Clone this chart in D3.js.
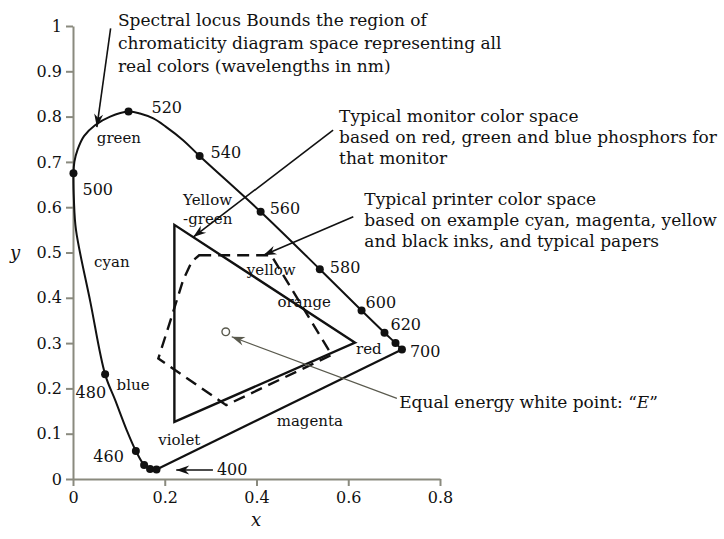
<!DOCTYPE html>
<html>
<head>
<meta charset="utf-8">
<script src="https://cdn.jsdelivr.net/npm/d3@7"></script>
<style>
  html, body { margin: 0; padding: 0; background: #fff; }
  svg { display: block; }
  text { font-family: "DejaVu Serif", "Liberation Serif", serif; fill: #111; }
</style>
</head>
<body>
<svg id="chart" width="724" height="539"></svg>
<script>
// ---- Axis ticks ----
const xTicks = [0, 0.2, 0.4, 0.6, 0.8];
const yTicks = [0, 0.1, 0.2, 0.3, 0.4, 0.5, 0.6, 0.7, 0.8, 0.9, 1];

// ---- Spectral locus trace (xy chromaticity), running 700 nm -> 400 nm ----
const locusX = [0.717, 0.703, 0.679, 0.629, 0.538, 0.409, 0.276, 0.240, 0.202, 0.175, 0.146, 0.121,
                0.081, 0.048, 0.024, 0.010, 0.003, 0.001, 0.002, 0.0065, 0.038, 0.070,
                0.092, 0.117, 0.137, 0.155, 0.168, 0.182];
const locusY = [0.286, 0.300, 0.323, 0.372, 0.463, 0.590, 0.713, 0.748, 0.778, 0.796, 0.807, 0.811,
                0.800, 0.781, 0.757, 0.727, 0.700, 0.675, 0.616, 0.550, 0.390, 0.231,
                0.174, 0.108, 0.062, 0.031, 0.022, 0.021];

// ---- Marked wavelengths on the locus ----
const markNm = [700, 640, 620, 600, 580, 560, 540, 520, 500, 480, 460, 420, 410, 400];
const markX  = [0.717, 0.703, 0.679, 0.629, 0.538, 0.409, 0.276, 0.121, 0.001, 0.070, 0.137, 0.155, 0.168, 0.182];
const markY  = [0.286, 0.300, 0.323, 0.372, 0.463, 0.590, 0.713, 0.811, 0.675, 0.231, 0.062, 0.031, 0.022, 0.021];
const labelledNm = [700, 620, 600, 580, 560, 540, 520, 500, 480, 460];

// ---- Typical monitor gamut (R, G, B phosphor chromaticities) ----
const monitorX = [0.615, 0.221, 0.221];
const monitorY = [0.301, 0.561, 0.126];

// ---- Typical printer gamut outline ----
const printerX = [0.275, 0.432, 0.564, 0.334, 0.186, 0.215, 0.240, 0.259];
const printerY = [0.494, 0.494, 0.274, 0.163, 0.266, 0.358, 0.439, 0.480];

// ---- Equal energy white point ----
const whiteX = 0.333, whiteY = 0.325;

// ---- Region names ----
const regionNames = ["green", "cyan", "blue", "violet", "magenta", "red", "orange", "yellow", "Yellow", "-green"];
const regionX = [0.052, 0.046, 0.095, 0.186, 0.444, 0.617, 0.446, 0.379, 0.240, 0.240];
const regionY = [0.741, 0.469, 0.196, 0.075, 0.117, 0.277, 0.380, 0.450, 0.605, 0.562];

// ---- Callout notes ----
const noteSpectral = ["Spectral locus Bounds the region of",
                      "chromaticity diagram space representing all",
                      "real colors (wavelengths in nm)"];
const noteMonitor  = ["Typical monitor color space",
                      "based on red, green and blue phosphors for",
                      "that monitor"];
const notePrinter  = ["Typical printer color space",
                      "based on example cyan, magenta, yellow",
                      "and black inks, and typical papers"];

// ---- Layout ----
const svg = d3.select("#chart");
const x = d3.scaleLinear().domain([0, 0.8]).range([73, 440]);
const y = d3.scaleLinear().domain([0, 1]).range([479, 26]);
const ink = "#111";
const axisGrey = "#8a8a7e";

// Axes
const gx = svg.append("g").attr("transform", `translate(0,${y(0)})`)
  .call(d3.axisBottom(x).tickValues(xTicks).tickSize(7).tickSizeOuter(0).tickPadding(3)
        .tickFormat(d3.format("~g")));
const gy = svg.append("g").attr("transform", `translate(${x(0)},0)`)
  .call(d3.axisLeft(y).tickValues(yTicks).tickSize(7).tickSizeOuter(0).tickPadding(3)
        .tickFormat(d3.format("~g")));
[gx, gy].forEach(g => {
  g.select(".domain").attr("stroke", axisGrey).attr("stroke-width", 2);
  g.selectAll(".tick line").attr("stroke", axisGrey).attr("stroke-width", 2);
  g.selectAll(".tick text").attr("fill", ink).style("font-family", "DejaVu Serif")
    .style("font-size", "16px");
});
gx.selectAll(".tick text").attr("dy", "0.9em");
gy.selectAll(".tick text").attr("dx", "-1");

svg.append("text").attr("x", 15).attr("y", 259).attr("text-anchor", "middle")
  .style("font-style", "italic").style("font-size", "18px").text("y");
svg.append("text").attr("x", 256).attr("y", 526).attr("text-anchor", "middle")
  .style("font-style", "italic").style("font-size", "18px").text("x");

// Spectral locus and line of purples
const locusPts = locusX.map((v, i) => [x(v), y(locusY[i])]);
svg.append("path")
  .attr("d", d3.line().curve(d3.curveCatmullRom.alpha(0.5))(locusPts))
  .attr("fill", "none").attr("stroke", ink).attr("stroke-width", 2);
svg.append("path")
  .attr("d", d3.line()([locusPts[locusPts.length - 1], locusPts[0]]))
  .attr("fill", "none").attr("stroke", ink).attr("stroke-width", 2.2);

// Monitor gamut
svg.append("path")
  .attr("d", d3.line()(monitorX.map((v, i) => [x(v), y(monitorY[i])])) + "Z")
  .attr("fill", "none").attr("stroke", ink).attr("stroke-width", 2.4)
  .attr("stroke-linejoin", "miter");

// Printer gamut (dashed)
svg.append("path")
  .attr("d", d3.line()(printerX.map((v, i) => [x(v), y(printerY[i])])) + "Z")
  .attr("fill", "none").attr("stroke", ink).attr("stroke-width", 2.4)
  .attr("stroke-dasharray", "12,7");

// Wavelength markers
svg.append("g").selectAll("circle").data(markNm).join("circle")
  .attr("cx", (d, i) => x(markX[i])).attr("cy", (d, i) => y(markY[i]))
  .attr("r", 4).attr("fill", ink);

// Wavelength labels: offset from each marker, in pixels
const wlOffset = {
  700: [8, 8, "start"], 620: [6, -3, "start"], 600: [4, -2, "start"], 580: [10, 4, "start"],
  560: [9, 2, "start"], 540: [11, 2, "start"], 520: [23, 1, "start"], 500: [9, 22, "start"],
  480: [1, 24, "end"], 460: [-12, 11, "end"]
};
svg.append("g").selectAll("text").data(labelledNm).join("text")
  .attr("x", d => x(markX[markNm.indexOf(d)]) + wlOffset[d][0])
  .attr("y", d => y(markY[markNm.indexOf(d)]) + wlOffset[d][1])
  .attr("text-anchor", d => wlOffset[d][2])
  .style("font-size", "16px").text(d => d);

// White point
svg.append("circle").attr("cx", x(whiteX)).attr("cy", y(whiteY)).attr("r", 3.8)
  .attr("fill", "#fff").attr("stroke", "#5a5a4e").attr("stroke-width", 1.4);

// Region names
svg.append("g").selectAll("text").data(regionNames).join("text")
  .attr("x", (d, i) => x(regionX[i])).attr("y", (d, i) => y(regionY[i]))
  .style("font-size", "15px").text(d => d);

// Callout arrows
const defs = svg.append("defs");
function arrowMarker(id, color) {
  defs.append("marker").attr("id", id).attr("viewBox", "-14 -6 16 12")
    .attr("refX", 0).attr("refY", 0).attr("markerWidth", 16).attr("markerHeight", 12)
    .attr("markerUnits", "userSpaceOnUse").attr("orient", "auto")
    .append("path").attr("d", "M0,0 L-13,-4.5 L-9,0 L-13,4.5 Z").attr("fill", color);
}
arrowMarker("headBlack", ink);
arrowMarker("headGrey", "#5a5a4e");

const arrows = [
  { from: [0.082, 0.995], to: [0.052, 0.777], color: ink, w: 1.6, head: "headBlack" },
  { from: [0.567, 0.770], to: [0.262, 0.534], color: ink, w: 1.6, head: "headBlack" },
  { from: [0.611, 0.579], to: [0.415, 0.494], color: ink, w: 1.6, head: "headBlack" },
  { from: [0.305, 0.020], to: [0.225, 0.020], color: ink, w: 1.6, head: "headBlack" },
  { from: [0.706, 0.178], to: [0.346, 0.314], color: "#5a5a4e", w: 1.2, head: "headGrey" }
];
svg.append("g").selectAll("line").data(arrows).join("line")
  .attr("x1", d => x(d.from[0])).attr("y1", d => y(d.from[1]))
  .attr("x2", d => x(d.to[0])).attr("y2", d => y(d.to[1]))
  .attr("stroke", d => d.color).attr("stroke-width", d => d.w)
  .attr("marker-end", d => `url(#${d.head})`);

svg.append("text").attr("x", x(0.305) + 4).attr("y", y(0.020) + 5)
  .style("font-size", "16px").text("400");

// Callout notes
function note(lines, x0, y0, lead) {
  const t = svg.append("text").attr("x", x(x0)).attr("y", y(y0)).style("font-size", "17px");
  lines.forEach((s, i) => t.append("tspan").attr("x", x(x0)).attr("dy", i ? lead : 0).text(s));
}
note(noteSpectral, 0.098, 0.999, 23);
note(noteMonitor, 0.580, 0.789, 21);
note(notePrinter, 0.635, 0.605, 21);

const eText = svg.append("text").attr("x", x(0.711)).attr("y", y(0.157)).style("font-size", "17px");
eText.append("tspan").text("Equal energy white point: \u201C");
eText.append("tspan").style("font-style", "italic").text("E");
eText.append("tspan").text("\u201D");
</script>
</body>
</html>
